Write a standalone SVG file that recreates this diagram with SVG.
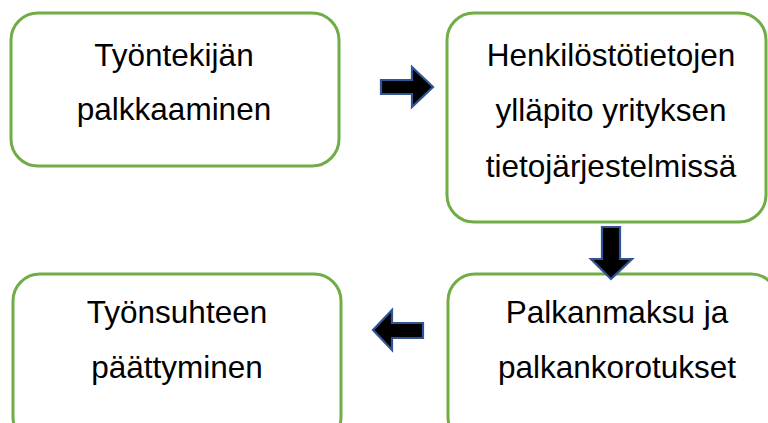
<svg xmlns="http://www.w3.org/2000/svg" width="768" height="423" viewBox="0 0 768 423">
<style>
.box{fill:#ffffff;stroke:#70AD47;stroke-width:3}
.t{font-family:"Liberation Sans",Arial,sans-serif;font-size:31.5px;fill:#000000;text-anchor:middle}
.arr{fill:#000000;stroke:#2F5597;stroke-width:2.2;stroke-linejoin:miter}
</style>
<rect width="768" height="423" fill="#ffffff"/>
<g id="node1">
<rect class="box" x="11" y="13" width="328" height="153" rx="27" ry="27"/>
<text class="t" x="174" y="66">Työntekijän</text>
<text class="t" x="174" y="120">palkkaaminen</text>
</g>
<g id="node2">
<rect class="box" x="447" y="13" width="319" height="209" rx="27" ry="27"/>
<text class="t" x="611" y="66">Henkilöstötietojen</text>
<text class="t" x="611" y="121">ylläpito yrityksen</text>
<text class="t" x="611" y="177">tietojärjestelmissä</text>
</g>
<g id="node3">
<rect class="box" x="13" y="274" width="328" height="170" rx="27" ry="27"/>
<text class="t" x="177" y="323">Työnsuhteen</text>
<text class="t" x="177" y="378">päättyminen</text>
</g>
<g id="node4">
<rect class="box" x="448" y="274" width="330" height="170" rx="27" ry="27"/>
<text class="t" x="617" y="323">Palkanmaksu ja</text>
<text class="t" x="617" y="378">palkankorotukset</text>
</g>
<g id="connectors">
<polygon class="arr" points="381,80 412,80 412,67 433,87 412,107 412,94 381,94"/>
<polygon class="arr" points="602,227 620,227 620,259 632,259 611,279 591,259 602,259"/>
<polygon class="arr" points="423,323 392,323 392,310 373,330 392,350 392,338 423,338"/>
</g>
</svg>
